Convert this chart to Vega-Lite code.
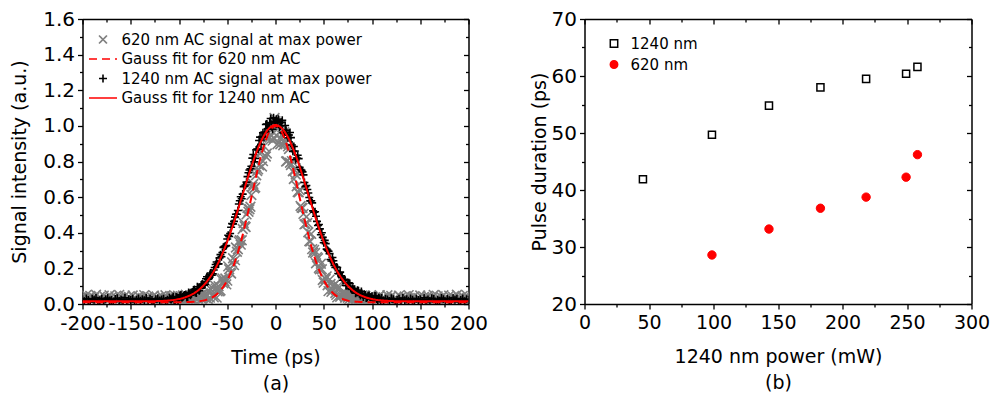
{
"$schema": "https://vega.github.io/schema/vega-lite/v6.json",
"padding": {"left": 10.5, "top": 9, "right": 0, "bottom": 0},
"background": "white",
"config": {
  "font": "DejaVu Sans",
  "view": {"stroke": null},
  "axis": {"grid": false, "labelFont": "DejaVu Sans", "titleFont": "DejaVu Sans", "labelFontSize": 20, "titleFontSize": 19, "titleFontWeight": "normal", "labelColor": "#000", "titleColor": "#000", "tickColor": "#000", "domainColor": "#000", "domainWidth": 1.5, "tickWidth": 1.3, "labelPadding": 3, "labelFlush": false, "labelOverlap": false, "labelBound": false},
  "legend": {"labelFont": "DejaVu Sans", "labelFontSize": 15, "labelColor": "#000", "padding": 0, "labelLimit": 0}
},
"datasets": {
"d": [
{"t":-200,"a":0.041,"b":0.027},{"t":-198,"a":0.022,"b":0.016},{"t":-196,"a":0.050,"b":0.031},{"t":-194,"a":0.031,"b":0.022},{"t":-192,"a":0.045,"b":0.013},{"t":-190,"a":0.018,"b":0.029},{"t":-188,"a":0.036,"b":0.024},{"t":-186,"a":0.052,"b":0.034},{"t":-184,"a":0.027,"b":0.018},{"t":-182,"a":0.039,"b":0.021},
{"t":-180,"a":0.020,"b":0.030},{"t":-178,"a":0.047,"b":0.014},{"t":-176,"a":0.033,"b":0.026},{"t":-174,"a":0.025,"b":0.033},{"t":-172,"a":0.049,"b":0.019},{"t":-170,"a":0.038,"b":0.023},{"t":-168,"a":0.017,"b":0.012},{"t":-166,"a":0.043,"b":0.028},{"t":-164,"a":0.029,"b":0.032},{"t":-162,"a":0.051,"b":0.017},
{"t":-160,"a":0.035,"b":0.025},{"t":-158,"a":0.024,"b":0.020},{"t":-156,"a":0.046,"b":0.035},{"t":-154,"a":0.030,"b":0.015},{"t":-152,"a":0.040,"b":0.027},{"t":-150,"a":0.019,"b":0.022},{"t":-148,"a":0.048,"b":0.030},{"t":-146,"a":0.034,"b":0.013},{"t":-144,"a":0.026,"b":0.024},{"t":-142,"a":0.044,"b":0.031},
{"t":-140,"a":0.037,"b":0.018},{"t":-138,"a":0.021,"b":0.026},{"t":-136,"a":0.050,"b":0.021},{"t":-134,"a":0.032,"b":0.034},{"t":-132,"a":0.042,"b":0.016},{"t":-130,"a":0.023,"b":0.029},{"t":-128,"a":0.038,"b":0.023},{"t":-126,"a":0.047,"b":0.011},{"t":-124,"a":0.028,"b":0.027},{"t":-122,"a":0.035,"b":0.032},
{"t":-120,"a":0.016,"b":0.019},{"t":-118,"a":0.045,"b":0.025},{"t":-116,"a":0.031,"b":0.030},{"t":-114,"a":0.049,"b":0.017},{"t":-112,"a":0.027,"b":0.024},
{"t":-110,"a":0.016,"b":0.035},{"t":-108,"a":0.039,"b":0.025},{"t":-106,"a":0.030,"b":0.042},{"t":-104,"a":0.045,"b":0.022},{"t":-102,"a":0.021,"b":0.036},{"t":-100,"a":0.036,"b":0.030},{"t":-98,"a":0.018,"b":0.051},{"t":-96,"a":0.048,"b":0.040},{"t":-94,"a":0.027,"b":0.050},{"t":-92,"a":0.041,"b":0.037},
{"t":-90,"a":0.020,"b":0.064},{"t":-88,"a":0.034,"b":0.049},{"t":-86,"a":0.048,"b":0.068},{"t":-84,"a":0.017,"b":0.082},{"t":-82,"a":0.041,"b":0.062},{"t":-80,"a":0.030,"b":0.087},{"t":-78,"a":0.049,"b":0.088},{"t":-76,"a":0.024,"b":0.112},{"t":-74,"a":0.044,"b":0.106},{"t":-72,"a":0.041,"b":0.142},
{"t":-70,"a":0.074,"b":0.139},{"t":-68,"a":0.036,"b":0.166},{"t":-66,"a":0.093,"b":0.161},{"t":-64,"a":0.037,"b":0.191},{"t":-62,"a":0.086,"b":0.222},{"t":-60,"a":0.071,"b":0.225},{"t":-58,"a":0.071,"b":0.259},{"t":-56,"a":0.137,"b":0.265},{"t":-54,"a":0.116,"b":0.318},{"t":-52,"a":0.143,"b":0.326},
{"t":-50,"a":0.131,"b":0.365},{"t":-48,"a":0.195,"b":0.379},{"t":-46,"a":0.171,"b":0.431},{"t":-44,"a":0.257,"b":0.450},{"t":-42,"a":0.246,"b":0.488},{"t":-40,"a":0.293,"b":0.504},{"t":-38,"a":0.350,"b":0.561},{"t":-36,"a":0.333,"b":0.602},{"t":-34,"a":0.421,"b":0.617},{"t":-32,"a":0.437,"b":0.661},
{"t":-30,"a":0.503,"b":0.684},{"t":-28,"a":0.518,"b":0.737},{"t":-26,"a":0.546,"b":0.759},{"t":-24,"a":0.658,"b":0.819},{"t":-22,"a":0.650,"b":0.799},{"t":-20,"a":0.723,"b":0.865},{"t":-18,"a":0.756,"b":0.869},{"t":-16,"a":0.843,"b":0.937},{"t":-14,"a":0.772,"b":0.940},{"t":-12,"a":0.886,"b":0.936},
{"t":-10,"a":0.828,"b":1.008},{"t":-8,"a":0.933,"b":0.984},{"t":-6,"a":0.934,"b":1.017},{"t":-4,"a":0.999,"b":0.995},{"t":-2,"a":0.932,"b":1.045},{"t":0,"a":1.026,"b":1.017},{"t":2,"a":0.897,"b":1.024},{"t":4,"a":0.992,"b":0.992},{"t":6,"a":0.927,"b":1.020},{"t":8,"a":0.891,"b":0.963},
{"t":10,"a":0.912,"b":1.002},{"t":12,"a":0.802,"b":0.948},{"t":14,"a":0.870,"b":0.949},{"t":16,"a":0.780,"b":0.934},{"t":18,"a":0.745,"b":0.857},{"t":20,"a":0.751,"b":0.859},{"t":22,"a":0.661,"b":0.820},{"t":24,"a":0.627,"b":0.816},{"t":26,"a":0.550,"b":0.755},{"t":28,"a":0.539,"b":0.742},
{"t":30,"a":0.447,"b":0.682},{"t":32,"a":0.489,"b":0.665},{"t":34,"a":0.403,"b":0.623},{"t":36,"a":0.351,"b":0.579},{"t":38,"a":0.308,"b":0.568},{"t":40,"a":0.304,"b":0.515},{"t":42,"a":0.229,"b":0.493},{"t":44,"a":0.257,"b":0.441},{"t":46,"a":0.195,"b":0.422},{"t":48,"a":0.195,"b":0.400},
{"t":50,"a":0.120,"b":0.344},{"t":52,"a":0.140,"b":0.339},{"t":54,"a":0.105,"b":0.302},{"t":56,"a":0.137,"b":0.283},{"t":58,"a":0.068,"b":0.241},{"t":60,"a":0.102,"b":0.243},{"t":62,"a":0.062,"b":0.205},{"t":64,"a":0.037,"b":0.205},{"t":66,"a":0.093,"b":0.170},{"t":68,"a":0.050,"b":0.159},
{"t":70,"a":0.063,"b":0.133},{"t":72,"a":0.036,"b":0.136},{"t":74,"a":0.055,"b":0.104},{"t":76,"a":0.024,"b":0.119},{"t":78,"a":0.042,"b":0.087},{"t":80,"a":0.026,"b":0.088},{"t":82,"a":0.050,"b":0.083},{"t":84,"a":0.035,"b":0.066},{"t":86,"a":0.021,"b":0.075},{"t":88,"a":0.043,"b":0.048},
{"t":90,"a":0.028,"b":0.053},{"t":92,"a":0.048,"b":0.055},{"t":94,"a":0.014,"b":0.034},{"t":96,"a":0.037,"b":0.045},{"t":98,"a":0.025,"b":0.038},{"t":100,"a":0.043,"b":0.044},{"t":102,"a":0.018,"b":0.029},{"t":104,"a":0.034,"b":0.043},{"t":106,"a":0.028,"b":0.019},{"t":108,"a":0.050,"b":0.031},
{"t":110,"a":0.023,"b":0.034},
{"t":112,"a":0.038,"b":0.019},{"t":114,"a":0.027,"b":0.030},{"t":116,"a":0.049,"b":0.025},{"t":118,"a":0.031,"b":0.017},{"t":120,"a":0.045,"b":0.032},{"t":122,"a":0.016,"b":0.027},{"t":124,"a":0.035,"b":0.011},{"t":126,"a":0.028,"b":0.023},{"t":128,"a":0.047,"b":0.029},{"t":130,"a":0.038,"b":0.016},
{"t":132,"a":0.023,"b":0.034},{"t":134,"a":0.042,"b":0.021},{"t":136,"a":0.032,"b":0.026},{"t":138,"a":0.050,"b":0.018},{"t":140,"a":0.021,"b":0.031},{"t":142,"a":0.037,"b":0.024},{"t":144,"a":0.044,"b":0.013},{"t":146,"a":0.026,"b":0.030},{"t":148,"a":0.034,"b":0.022},{"t":150,"a":0.048,"b":0.027},
{"t":152,"a":0.019,"b":0.015},{"t":154,"a":0.040,"b":0.035},{"t":156,"a":0.030,"b":0.020},{"t":158,"a":0.046,"b":0.025},{"t":160,"a":0.024,"b":0.017},{"t":162,"a":0.035,"b":0.032},{"t":164,"a":0.051,"b":0.028},{"t":166,"a":0.029,"b":0.012},{"t":168,"a":0.043,"b":0.023},{"t":170,"a":0.017,"b":0.019},
{"t":172,"a":0.038,"b":0.033},{"t":174,"a":0.049,"b":0.026},{"t":176,"a":0.025,"b":0.014},{"t":178,"a":0.033,"b":0.030},{"t":180,"a":0.047,"b":0.021},{"t":182,"a":0.020,"b":0.018},{"t":184,"a":0.039,"b":0.034},{"t":186,"a":0.027,"b":0.024},{"t":188,"a":0.052,"b":0.029},{"t":190,"a":0.036,"b":0.013},
{"t":192,"a":0.018,"b":0.022},{"t":194,"a":0.045,"b":0.031},{"t":196,"a":0.031,"b":0.016},{"t":198,"a":0.050,"b":0.027},{"t":200,"a":0.022,"b":0.023},
{"t":-109,"a":0.028,"b":0.027},{"t":-107,"a":0.044,"b":0.032},{"t":-105,"a":0.016,"b":0.023},{"t":-103,"a":0.032,"b":0.039},{"t":-101,"a":0.046,"b":0.023},{"t":-99,"a":0.022,"b":0.047},{"t":-97,"a":0.038,"b":0.035},{"t":-95,"a":0.014,"b":0.047},{"t":-93,"a":0.052,"b":0.054},{"t":-91,"a":0.027,"b":0.040},
{"t":-89,"a":0.042,"b":0.057},{"t":-87,"a":0.022,"b":0.057},{"t":-85,"a":0.051,"b":0.079},{"t":-83,"a":0.034,"b":0.065},{"t":-81,"a":0.041,"b":0.097},{"t":-79,"a":0.018,"b":0.075},{"t":-77,"a":0.049,"b":0.106},{"t":-75,"a":0.059,"b":0.110},{"t":-73,"a":0.036,"b":0.111},{"t":-71,"a":0.049,"b":0.153},
{"t":-69,"a":0.020,"b":0.144},{"t":-67,"a":0.083,"b":0.174},{"t":-65,"a":0.053,"b":0.169},{"t":-63,"a":0.105,"b":0.205},{"t":-61,"a":0.036,"b":0.236},{"t":-59,"a":0.100,"b":0.225},{"t":-57,"a":0.076,"b":0.277},{"t":-55,"a":0.144,"b":0.289},{"t":-53,"a":0.128,"b":0.322},{"t":-51,"a":0.110,"b":0.328},
{"t":-49,"a":0.211,"b":0.386},{"t":-47,"a":0.176,"b":0.396},{"t":-45,"a":0.234,"b":0.451},{"t":-43,"a":0.218,"b":0.464},{"t":-41,"a":0.317,"b":0.504},{"t":-39,"a":0.307,"b":0.525},{"t":-37,"a":0.358,"b":0.580},{"t":-35,"a":0.358,"b":0.591},{"t":-33,"a":0.455,"b":0.659},{"t":-31,"a":0.432,"b":0.668},
{"t":-29,"a":0.538,"b":0.715},{"t":-27,"a":0.532,"b":0.752},{"t":-25,"a":0.612,"b":0.773},{"t":-23,"a":0.674,"b":0.839},{"t":-21,"a":0.655,"b":0.817},{"t":-19,"a":0.747,"b":0.870},{"t":-17,"a":0.779,"b":0.918},{"t":-15,"a":0.853,"b":0.897},{"t":-13,"a":0.802,"b":0.961},{"t":-11,"a":0.942,"b":0.966},
{"t":-9,"a":0.845,"b":1.010},{"t":-7,"a":0.960,"b":0.985},{"t":-5,"a":0.949,"b":1.041},{"t":-3,"a":0.917,"b":0.981},{"t":-1,"a":1.044,"b":1.026},{"t":1,"a":0.946,"b":1.037},{"t":3,"a":1.000,"b":1.037},{"t":5,"a":0.897,"b":0.999},{"t":7,"a":0.945,"b":1.031},{"t":9,"a":0.965,"b":0.958},
{"t":11,"a":0.800,"b":0.976},{"t":13,"a":0.885,"b":0.933},{"t":15,"a":0.793,"b":0.963},{"t":17,"a":0.802,"b":0.893},{"t":19,"a":0.702,"b":0.884},{"t":21,"a":0.727,"b":0.810},{"t":23,"a":0.629,"b":0.835},{"t":25,"a":0.639,"b":0.768},{"t":27,"a":0.541,"b":0.750},{"t":29,"a":0.506,"b":0.725},
{"t":31,"a":0.450,"b":0.659},{"t":33,"a":0.455,"b":0.643},{"t":35,"a":0.353,"b":0.598},{"t":37,"a":0.394,"b":0.580},{"t":39,"a":0.289,"b":0.523},{"t":41,"a":0.286,"b":0.518},{"t":43,"a":0.263,"b":0.464},{"t":45,"a":0.202,"b":0.446},{"t":47,"a":0.226,"b":0.389},{"t":49,"a":0.135,"b":0.374},
{"t":51,"a":0.146,"b":0.357},{"t":53,"a":0.155,"b":0.308},{"t":55,"a":0.072,"b":0.296},{"t":57,"a":0.112,"b":0.250},{"t":59,"a":0.082,"b":0.261},{"t":61,"a":0.108,"b":0.216},{"t":63,"a":0.051,"b":0.208},{"t":65,"a":0.102,"b":0.171},{"t":67,"a":0.041,"b":0.179},{"t":69,"a":0.060,"b":0.148},
{"t":71,"a":0.057,"b":0.139},{"t":73,"a":0.056,"b":0.104},{"t":75,"a":0.035,"b":0.119},{"t":77,"a":0.057,"b":0.115},{"t":79,"a":0.022,"b":0.082},{"t":81,"a":0.041,"b":0.083},{"t":83,"a":0.026,"b":0.061},{"t":85,"a":0.055,"b":0.077},{"t":87,"a":0.032,"b":0.057},{"t":89,"a":0.042,"b":0.070},
{"t":91,"a":0.015,"b":0.040},{"t":93,"a":0.046,"b":0.050},{"t":95,"a":0.020,"b":0.037},{"t":97,"a":0.038,"b":0.048},{"t":99,"a":0.048,"b":0.038},{"t":101,"a":0.012,"b":0.025},{"t":103,"a":0.034,"b":0.045},{"t":105,"a":0.024,"b":0.028},{"t":107,"a":0.042,"b":0.035},{"t":109,"a":0.018,"b":0.021}
],
"fit": [
{"t":-200,"f":0.015,"g":0.010},{"t":-150,"f":0.015,"g":0.010},{"t":-130,"f":0.016,"g":0.010},{"t":-125,"f":0.016,"g":0.010},{"t":-120,"f":0.017,"g":0.010},{"t":-115,"f":0.018,"g":0.010},{"t":-110,"f":0.020,"g":0.010},{"t":-105,"f":0.023,"g":0.010},{"t":-100,"f":0.028,"g":0.010},{"t":-95,"f":0.035,"g":0.010},
{"t":-90,"f":0.045,"g":0.011},{"t":-85,"f":0.058,"g":0.012},{"t":-80,"f":0.077,"g":0.015},{"t":-75,"f":0.102,"g":0.019},{"t":-70,"f":0.134,"g":0.027},{"t":-65,"f":0.174,"g":0.039},{"t":-60,"f":0.224,"g":0.059},{"t":-55,"f":0.283,"g":0.090},{"t":-50,"f":0.351,"g":0.133},{"t":-45,"f":0.427,"g":0.193},
{"t":-40,"f":0.511,"g":0.271},{"t":-35,"f":0.598,"g":0.367},{"t":-30,"f":0.686,"g":0.478},{"t":-25,"f":0.771,"g":0.598},{"t":-20,"f":0.848,"g":0.719},{"t":-15,"f":0.913,"g":0.831},{"t":-10,"f":0.963,"g":0.921},{"t":-5,"f":0.994,"g":0.980},{"t":0,"f":1.005,"g":1.000},
{"t":5,"f":0.994,"g":0.980},{"t":10,"f":0.963,"g":0.921},{"t":15,"f":0.913,"g":0.831},{"t":20,"f":0.848,"g":0.719},{"t":25,"f":0.771,"g":0.598},{"t":30,"f":0.686,"g":0.478},{"t":35,"f":0.598,"g":0.367},{"t":40,"f":0.511,"g":0.271},{"t":45,"f":0.427,"g":0.193},{"t":50,"f":0.351,"g":0.133},
{"t":55,"f":0.283,"g":0.090},{"t":60,"f":0.224,"g":0.059},{"t":65,"f":0.174,"g":0.039},{"t":70,"f":0.134,"g":0.027},{"t":75,"f":0.102,"g":0.019},{"t":80,"f":0.077,"g":0.015},{"t":85,"f":0.058,"g":0.012},{"t":90,"f":0.045,"g":0.011},{"t":95,"f":0.035,"g":0.010},{"t":100,"f":0.028,"g":0.010},
{"t":105,"f":0.023,"g":0.010},{"t":110,"f":0.020,"g":0.010},{"t":115,"f":0.018,"g":0.010},{"t":120,"f":0.017,"g":0.010},{"t":125,"f":0.016,"g":0.010},{"t":130,"f":0.016,"g":0.010},{"t":150,"f":0.015,"g":0.010},{"t":200,"f":0.015,"g":0.010}
],
"sq": [
{"p":45.3,"d":41.9},{"p":98.8,"d":49.7},{"p":143.0,"d":54.8},{"p":182.9,"d":58.0},{"p":218.3,"d":59.5},{"p":249.3,"d":60.4},{"p":258.1,"d":61.6}
],
"ci": [
{"p":98.8,"d":28.6},{"p":143.0,"d":33.15},{"p":182.9,"d":36.8},{"p":218.3,"d":38.75},{"p":249.3,"d":42.25},{"p":258.1,"d":46.2}
]
},
"spacing": 116,
"bounds": "flush",
"resolve": {"scale": {"color": "independent", "shape": "independent", "strokeDash": "independent", "fill": "independent", "stroke": "independent"}},
"hconcat": [
{
  "width": 386, "height": 285,
  "resolve": {"axis": {"x": "independent", "y": "independent"}},
  "layer": [
    {
      "data": {"name": "d"},
      "mark": {"type": "point", "filled": false, "size": 95, "strokeWidth": 1.6, "opacity": 1, "clip": true},
      "encoding": {
        "x": {"field": "t", "type": "quantitative", "scale": {"domain": [-200, 200], "nice": false, "zero": false},
              "axis": {"orient": "bottom", "values": [-200,-150,-100,-50,0,50,100,150,200], "labelExpr": "datum.value < 0 ? '-' + abs(datum.value) : '' + datum.value", "title": ["Time (ps)", "(a)"], "titleLineHeight": 26, "titlePadding": 15, "tickSize": 5, "labelPadding": 4}},
        "y": {"field": "a", "type": "quantitative", "scale": {"domain": [0, 1.6], "nice": false},
              "axis": {"orient": "left", "values": [0,0.2,0.4,0.6,0.8,1.0,1.2,1.4,1.6], "format": ".1f", "title": "Signal intensity (a.u.)", "titlePadding": 13, "tickSize": 5}},
        "color": {"datum": "620 nm AC signal at max power",
                  "scale": {"domain": ["620 nm AC signal at max power","Gauss fit for 620 nm AC","1240 nm AC signal at max power","Gauss fit for 1240 nm AC"], "range": ["#808080","#ff0000","#000000","#ff0000"]},
                  "legend": {"orient": "none", "legendX": 13, "legendY": 13, "title": null, "symbolSize": 64, "symbolStrokeWidth": 1.6, "labelOffset": 11, "rowPadding": 3.5}},
        "shape": {"datum": "620 nm AC signal at max power",
                  "scale": {"domain": ["620 nm AC signal at max power","Gauss fit for 620 nm AC","1240 nm AC signal at max power","Gauss fit for 1240 nm AC"], "range": ["M-1,-1L1,1M-1,1L1,-1","M-3.5,0L3.5,0","M-1,0L1,0M0,-1L0,1","M-3.5,0L3.5,0"]},
                  "legend": {"orient": "none", "legendX": 13, "legendY": 13, "title": null, "symbolSize": 64, "symbolStrokeWidth": 1.6, "labelOffset": 11, "rowPadding": 3.5}}
      }
    },
    {
      "data": {"name": "d"},
      "mark": {"type": "point", "filled": false, "size": 64, "strokeWidth": 1.6, "opacity": 1, "clip": true},
      "encoding": {
        "x": {"field": "t", "type": "quantitative",
              "axis": {"orient": "bottom", "values": [-175,-125,-75,-25,25,75,125,175], "labels": false, "title": null, "tickSize": 3, "domain": false}},
        "y": {"field": "b", "type": "quantitative",
              "axis": {"orient": "left", "values": [0.1,0.3,0.5,0.7,0.9,1.1,1.3,1.5], "labels": false, "title": null, "tickSize": 3, "domain": false}},
        "color": {"datum": "1240 nm AC signal at max power"},
        "shape": {"datum": "1240 nm AC signal at max power"}
      }
    },
    {
      "data": {"name": "fit"},
      "mark": {"type": "line", "strokeWidth": 2, "clip": true, "interpolate": "monotone"},
      "encoding": {
        "x": {"field": "t", "type": "quantitative",
              "axis": {"orient": "top", "values": [-200,-150,-100,-50,0,50,100,150,200], "labels": false, "title": null, "tickSize": -5, "domain": true}},
        "y": {"field": "g", "type": "quantitative",
              "axis": {"orient": "right", "values": [0,0.2,0.4,0.6,0.8,1.0,1.2,1.4,1.6], "labels": false, "title": null, "tickSize": -5, "domain": true}},
        "color": {"datum": "Gauss fit for 620 nm AC"},
        "strokeDash": {"datum": "Gauss fit for 620 nm AC",
                       "scale": {"domain": ["620 nm AC signal at max power","Gauss fit for 620 nm AC","1240 nm AC signal at max power","Gauss fit for 1240 nm AC"], "range": [[1,0],[8,5],[1,0],[1,0]]},
                       "legend": {"orient": "none", "legendX": 13, "legendY": 13, "title": null, "symbolSize": 64, "symbolStrokeWidth": 1.6, "labelOffset": 11, "rowPadding": 3.5}}
      }
    },
    {
      "data": {"name": "fit"},
      "mark": {"type": "line", "strokeWidth": 2, "clip": true, "interpolate": "monotone"},
      "encoding": {
        "x": {"field": "t", "type": "quantitative",
              "axis": {"orient": "top", "values": [-175,-125,-75,-25,25,75,125,175], "labels": false, "title": null, "tickSize": -3, "domain": false}},
        "y": {"field": "f", "type": "quantitative",
              "axis": {"orient": "right", "values": [0.1,0.3,0.5,0.7,0.9,1.1,1.3,1.5], "labels": false, "title": null, "tickSize": -3, "domain": false}},
        "color": {"datum": "Gauss fit for 1240 nm AC"},
        "strokeDash": {"datum": "Gauss fit for 1240 nm AC"}
      }
    }
  ]
},
{
  "width": 387, "height": 285,
  "resolve": {"axis": {"x": "independent", "y": "independent"}},
  "layer": [
    {
      "data": {"name": "sq"},
      "mark": {"type": "point", "filled": true, "size": 50, "strokeWidth": 1.5, "opacity": 1},
      "encoding": {
        "x": {"field": "p", "type": "quantitative", "scale": {"domain": [0, 300], "nice": false},
              "axis": {"orient": "bottom", "values": [0,50,100,150,200,250,300], "format": "d", "title": ["1240 nm power (mW)", "(b)"], "titleLineHeight": 26, "titlePadding": 15, "tickSize": 5, "labelPadding": 4, "labelFontSize": 19}},
        "y": {"field": "d", "type": "quantitative", "scale": {"domain": [20, 70], "nice": false, "zero": false},
              "axis": {"orient": "left", "values": [20,30,40,50,60,70], "format": "d", "title": "Pulse duration (ps)", "titlePadding": 2, "tickSize": 5}},
        "fill": {"datum": "1240 nm", "scale": {"domain": ["1240 nm","620 nm"], "range": ["#ffffff","#ff0000"]},
                 "legend": {"orient": "none", "legendX": 22, "legendY": 17, "title": null, "symbolSize": 55, "symbolStrokeWidth": 1.5, "labelOffset": 9, "rowPadding": 5}},
        "stroke": {"datum": "1240 nm", "scale": {"domain": ["1240 nm","620 nm"], "range": ["#000000","#ff0000"]},
                 "legend": {"orient": "none", "legendX": 22, "legendY": 17, "title": null, "symbolSize": 55, "symbolStrokeWidth": 1.5, "labelOffset": 9, "rowPadding": 5}},
        "shape": {"datum": "1240 nm", "scale": {"domain": ["1240 nm","620 nm"], "range": ["square","circle"]},
                 "legend": {"orient": "none", "legendX": 22, "legendY": 17, "title": null, "symbolSize": 55, "symbolStrokeWidth": 1.5, "labelOffset": 9, "rowPadding": 5}}
      }
    },
    {
      "data": {"name": "ci"},
      "mark": {"type": "point", "filled": true, "size": 70, "strokeWidth": 1, "opacity": 1},
      "encoding": {
        "x": {"field": "p", "type": "quantitative",
              "axis": {"orient": "bottom", "values": [25,75,125,175,225,275], "labels": false, "title": null, "tickSize": 3, "domain": false}},
        "y": {"field": "d", "type": "quantitative",
              "axis": {"orient": "left", "values": [25,35,45,55,65], "labels": false, "title": null, "tickSize": 3, "domain": false}},
        "fill": {"datum": "620 nm"},
        "stroke": {"datum": "620 nm"},
        "shape": {"datum": "620 nm"}
      }
    },
    {
      "data": {"name": "sq"},
      "mark": {"type": "point", "filled": true, "size": 50, "opacity": 0},
      "encoding": {
        "x": {"field": "p", "type": "quantitative",
              "axis": {"orient": "top", "values": [0,50,100,150,200,250,300], "labels": false, "title": null, "tickSize": -5, "domain": true}},
        "y": {"field": "d", "type": "quantitative",
              "axis": {"orient": "right", "values": [20,30,40,50,60,70], "labels": false, "title": null, "tickSize": -5, "domain": true}}
      }
    },
    {
      "data": {"name": "ci"},
      "mark": {"type": "point", "filled": true, "size": 50, "opacity": 0},
      "encoding": {
        "x": {"field": "p", "type": "quantitative",
              "axis": {"orient": "top", "values": [25,75,125,175,225,275], "labels": false, "title": null, "tickSize": -3, "domain": false}},
        "y": {"field": "d", "type": "quantitative",
              "axis": {"orient": "right", "values": [25,35,45,55,65], "labels": false, "title": null, "tickSize": -3, "domain": false}}
      }
    }
  ]
}
]
}
